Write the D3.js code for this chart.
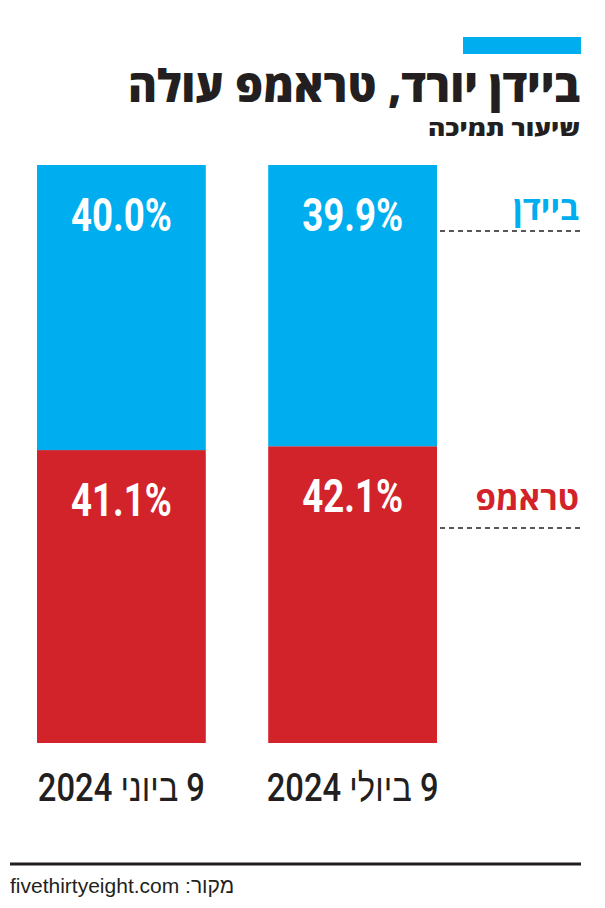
<!DOCTYPE html>
<html><head><meta charset="utf-8">
<script src="https://cdn.jsdelivr.net/npm/d3@7"></script>
<style>
html,body{margin:0;padding:0;background:#fff;}
svg{display:block;}
</style></head>
<body>
<script>
// ---- data ----
const categories = ["9 ביוני 2024", "9 ביולי 2024"];
const seriesNames = ["טראמפ", "ביידן"];
const trumpValues = [41.1, 42.1];
const bidenValues = [40.0, 39.9];
const title = "ביידן יורד, טראמפ עולה";
const subtitle = "שיעור תמיכה";
const source = "מקור: fivethirtyeight.com";

const W = 605, H = 908;
const blue = "#00aeef", red = "#d2232a", ink = "#231f20";
const cond = "Roboto,'Liberation Sans',sans-serif";
const heb = "'Open Sans','Liberation Sans','DejaVu Sans',sans-serif";

const svg = d3.select("body").append("svg").attr("width", W).attr("height", H);

// table for stacking
const table = categories.map((c, i) => ({cat: c, trump: trumpValues[i], biden: bidenValues[i]}));
const stack = d3.stack().keys(["trump", "biden"]).offset(d3.stackOffsetExpand);
const stacked = stack(table);

const x = d3.scaleBand().domain(categories).range([37, 437]).paddingInner(0.27).paddingOuter(0);
const y = d3.scaleLinear().domain([0, 1]).range([743, 165]);
const color = d3.scaleOrdinal().domain(["trump", "biden"]).range([red, blue]);

// header
svg.append("rect").attr("x", 463).attr("y", 37).attr("width", 118).attr("height", 17).attr("fill", blue);
svg.append("text").attr("x", 580).attr("y", 102).attr("direction", "rtl").attr("text-anchor", "start")
  .attr("font-family", heb).attr("font-weight", 800).attr("font-size", 45).attr("fill", ink)
  .attr("textLength", 452).attr("lengthAdjust", "spacingAndGlyphs").text(title);
svg.append("text").attr("x", 580).attr("y", 136).attr("direction", "rtl").attr("text-anchor", "start")
  .attr("font-family", heb).attr("font-weight", 800).attr("font-size", 22).attr("fill", ink)
  .attr("textLength", 152).attr("lengthAdjust", "spacingAndGlyphs").text(subtitle);

// bars
const layers = svg.append("g").selectAll("g").data(stacked).join("g").attr("fill", d => color(d.key));
layers.selectAll("rect").data(d => d.map(v => ({v, key: d.key}))).join("rect")
  .attr("x", d => x(d.v.data.cat))
  .attr("width", x.bandwidth())
  .attr("y", d => y(d.v[1]))
  .attr("height", d => y(d.v[0]) - y(d.v[1]));

// value labels (condensed via horizontal scale)
layers.selectAll("text").data(d => d.map(v => ({v, key: d.key}))).join("text")
  .attr("transform", d => `translate(${x(d.v.data.cat) + x.bandwidth() / 2},${y(d.v[1]) + 66}) scale(0.78,1)`)
  .attr("text-anchor", "middle")
  .attr("font-family", cond).attr("font-weight", 700).attr("font-size", 47)
  .attr("fill", "#fff")
  .text(d => d3.format(".1f")(d.v.data[d.key]) + "%");

// category labels
svg.append("g").selectAll("text").data(categories).join("text")
  .attr("transform", d => `translate(${x(d) + x.bandwidth() / 2},801) scale(0.84,1)`)
  .attr("text-anchor", "middle").attr("direction", "rtl")
  .attr("font-family", cond).attr("font-weight", 500).attr("font-size", 39).attr("fill", ink)
  .text(d => d);

// legend
const legend = [
  {name: seriesNames[1], c: blue, ty: 220, ly: 231},
  {name: seriesNames[0], c: red, ty: 510, ly: 528}
];
const lg = svg.append("g").selectAll("g").data(legend).join("g");
lg.append("text").attr("x", 579).attr("y", d => d.ty).attr("direction", "rtl").attr("text-anchor", "start")
  .attr("font-family", heb).attr("font-weight", 700).attr("font-size", 33).attr("fill", d => d.c).text(d => d.name);
lg.append("line").attr("x1", 440).attr("x2", 582).attr("y1", d => d.ly).attr("y2", d => d.ly)
  .attr("stroke", ink).attr("stroke-width", 1.5).attr("stroke-dasharray", "5,4");

// footer
svg.append("line").attr("x1", 10).attr("x2", 581).attr("y1", 864).attr("y2", 864)
  .attr("stroke", ink).attr("stroke-width", 3);
svg.append("text").attr("x", 10).attr("y", 893).attr("direction", "rtl").attr("text-anchor", "end")
  .attr("font-family", "'Liberation Sans',Arial,sans-serif").attr("font-size", 21).attr("fill", ink)
  .text(source);
</script>
</body></html>
